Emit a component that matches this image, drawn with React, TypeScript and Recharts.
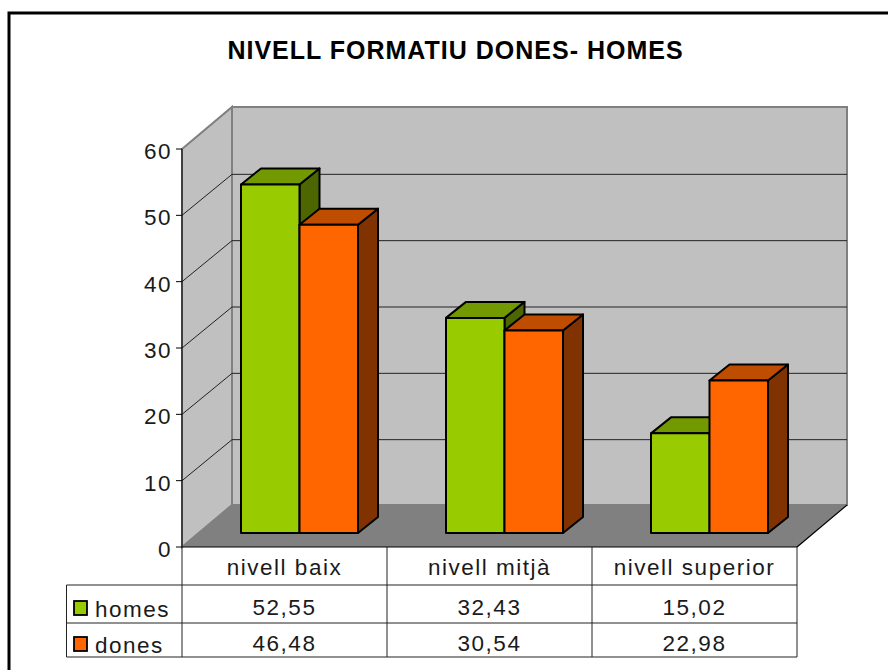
import React from "react";
import { BarChart, Bar, XAxis, YAxis, CartesianGrid, usePlotArea } from "recharts";

const categories = ["nivell baix", "nivell mitjà", "nivell superior"];
const homesValues = [52.55, 32.43, 15.02];
const donesValues = [46.48, 30.54, 22.98];
const homesLabels = ["52,55", "32,43", "15,02"];
const donesLabels = ["46,48", "30,54", "22,98"];
const yTicks = [0, 10, 20, 30, 40, 50, 60];
const innerGridValues = [10, 20, 30, 40, 50];
const title = "NIVELL FORMATIU DONES- HOMES";

const data = categories.map((name, i) => ({ name, homes: homesValues[i], dones: donesValues[i] }));

const W = 888, H = 670;
const WALL_DX = 50, WALL_DY = 42, GRID_DY = 41;
const BAR_DX = 15, BAR_DY = 14;
const DEPTH_X = 20, DEPTH_Y = 16;
const FONT = "'Liberation Sans', Arial, sans-serif";
const ROW_1 = 585, ROW_2 = 623, ROW_3 = 657, TABLE_LEFT = 66.5;
const INK = "#1a1a1a";

const Walls = () => {
  const p = usePlotArea();
  if (!p) return null;
  const l = p.x, t = p.y, r = p.x + p.width, b = p.y + p.height;
  const dx = WALL_DX, dy = WALL_DY;
  return (
    <g>
      <path d={`M9 ${H} V13 H${W}`} fill="none" stroke="#000" strokeWidth={3} />
      <text x={455.5} y={59} textAnchor="middle" fontFamily={FONT} fontWeight="bold" fontSize={25} letterSpacing={1} fill="#000">{title}</text>
      <polygon points={`${l + dx},${t - dy} ${r + dx},${t - dy} ${r + dx},${b - dy} ${l + dx},${b - dy}`} fill="#C0C0C0" stroke="#808080" strokeWidth={2} />
      <polygon points={`${l},${t} ${l + dx},${t - dy} ${l + dx},${b - dy} ${l},${b}`} fill="#C0C0C0" stroke="#808080" strokeWidth={2} />
      <polygon points={`${l},${b} ${l + dx},${b - dy} ${r + dx},${b - dy} ${r},${b}`} fill="#808080" />
      <line x1={r} y1={b} x2={r + dx} y2={b - dy} stroke="#000" strokeWidth={1.2} />
    </g>
  );
};

const gridLine = (props: any) => {
  const { x1, x2, y1, key } = props;
  return (
    <polyline
      key={key}
      points={`${x1},${y1} ${x1 + WALL_DX},${y1 - GRID_DY} ${x2 + WALL_DX},${y1 - GRID_DY}`}
      fill="none"
      stroke="#222"
      strokeWidth={1}
    />
  );
};

const shade3d = (front: string, top: string, side: string) => (props: any) => {
  const { x, y, width, height } = props;
  const fx = x + BAR_DX, fy = y - BAR_DY, fr = fx + width, fb = fy + height;
  const stroke = { stroke: "#000", strokeWidth: 2, strokeLinejoin: "round" as const };
  return (
    <g>
      <polygon points={`${fr},${fy} ${fr + DEPTH_X},${fy - DEPTH_Y} ${fr + DEPTH_X},${fb - DEPTH_Y} ${fr},${fb}`} fill={side} {...stroke} />
      <polygon points={`${fx},${fy} ${fx + DEPTH_X},${fy - DEPTH_Y} ${fr + DEPTH_X},${fy - DEPTH_Y} ${fr},${fy}`} fill={top} {...stroke} />
      <rect x={fx} y={fy} width={width} height={height} fill={front} {...stroke} />
    </g>
  );
};

const tableText = { fontFamily: FONT, fontSize: 22.5, letterSpacing: 1.5, fill: INK };

const TableColumn = (props: any) => {
  const { x, index } = props;
  const colW = 205;
  const left = x - colW / 2, right = x + colW / 2;
  return (
    <g>
      <line x1={right} y1={547} x2={right} y2={ROW_3} stroke="#222" strokeWidth={1} />
      {index === 0 && <line x1={left} y1={547} x2={left} y2={ROW_3} stroke="#222" strokeWidth={1} />}
      <text x={x} y={575} textAnchor="middle" {...tableText}>{categories[index]}</text>
      <text x={x} y={615} textAnchor="middle" {...tableText}>{homesLabels[index]}</text>
      <text x={x} y={651} textAnchor="middle" {...tableText}>{donesLabels[index]}</text>
    </g>
  );
};

const TableFrame = () => {
  const p = usePlotArea();
  if (!p) return null;
  const r = p.x + p.width, l = p.x;
  return (
    <g>
      <path d={`M${l} ${ROW_1} H${r} M${TABLE_LEFT} ${ROW_1} H${l} M${TABLE_LEFT} ${ROW_2} H${r} M${TABLE_LEFT} ${ROW_3} H${r} M${TABLE_LEFT} ${ROW_1} V${ROW_3}`} fill="none" stroke="#222" strokeWidth={1} />
      <rect x={74} y={601} width={13} height={14} fill="#99CC00" stroke="#000" strokeWidth={1.8} />
      <rect x={74} y={637} width={13} height={14} fill="#FF6600" stroke="#000" strokeWidth={1.8} />
      <text x={95} y={617} {...tableText}>homes</text>
      <text x={95} y={653} {...tableText}>dones</text>
    </g>
  );
};

const yTick = (props: any) => {
  const { x, y, payload } = props;
  return (
    <text x={x - 2} y={y + 10} textAnchor="end" fontFamily={FONT} fontSize={22.5} letterSpacing={1.5} fill={INK}>
      {payload.value}
    </text>
  );
};

export default function App() {
  return (
    <div style={{ position: "absolute", left: 0, top: 0, width: W, height: H }}>
      <BarChart
        width={W}
        height={H}
        data={data}
        barSize={58.5}
        barGap={0}
        margin={{ top: 149, left: 122, right: 91, bottom: 23 }}
      >
        <Walls />
        <CartesianGrid zIndex={50} vertical={false} horizontalValues={innerGridValues} horizontal={gridLine} />
        <XAxis dataKey="name" height={100} interval={0} tickLine={false} axisLine={{ stroke: "#000", strokeWidth: 1.2 }} tick={<TableColumn />} />
        <YAxis width={60} domain={[0, 60]} ticks={yTicks} tickSize={6} tickLine={{ stroke: "#000" }} axisLine={{ stroke: "#000" }} tick={yTick} />
        <Bar dataKey="homes" isAnimationActive={false} shape={shade3d("#99CC00", "#739900", "#4D6600")} />
        <Bar dataKey="dones" isAnimationActive={false} shape={shade3d("#FF6600", "#BF4D00", "#803300")} />
        <TableFrame />
      </BarChart>
    </div>
  );
}
